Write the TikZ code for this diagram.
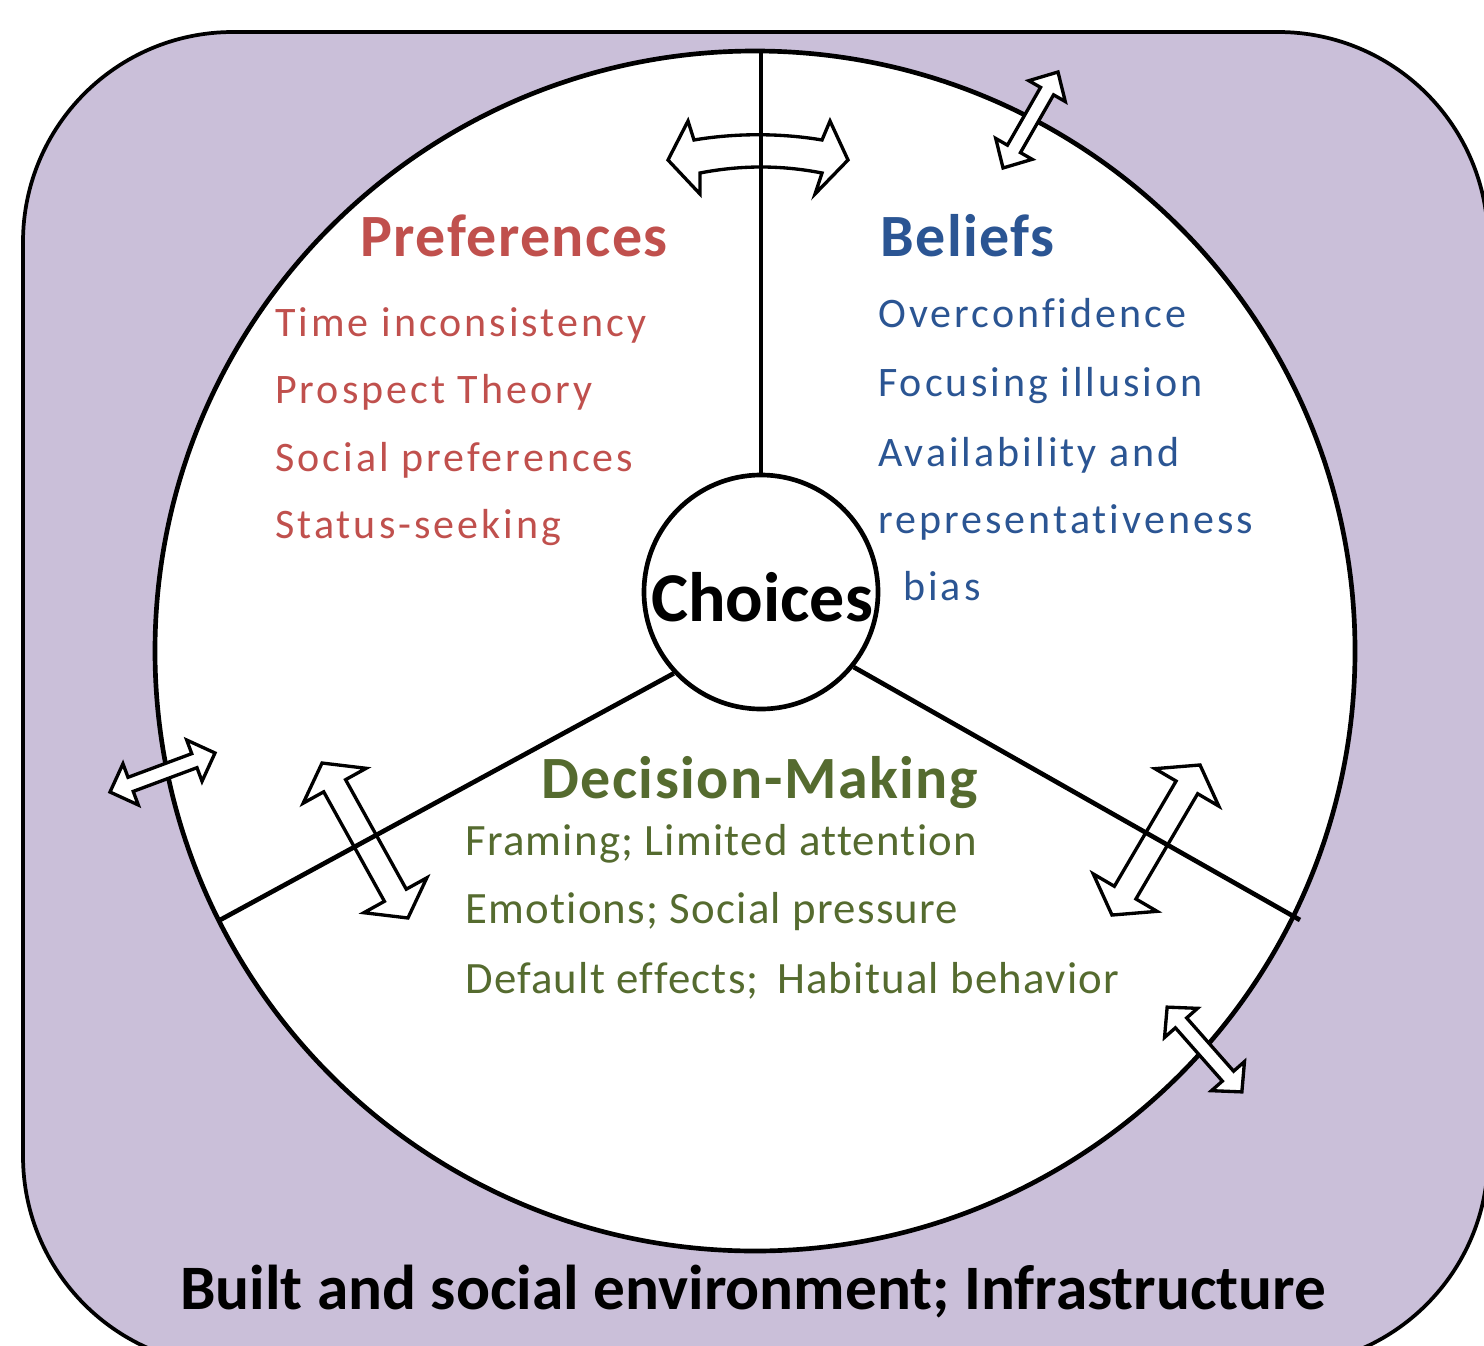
\documentclass[tikz,border=0pt]{standalone}
\usepackage{fontspec}
\setmainfont{Carlito}
\newfontfamily\headfont[LetterSpace=2.5]{Carlito}
\newfontfamily\listfont[LetterSpace=7.2,Ligatures=NoCommon]{Carlito}
\newfontfamily\greenfont[LetterSpace=2.8,Ligatures=NoCommon]{Carlito}
\usetikzlibrary{calc}

\definecolor{envfill}{HTML}{CABFD9}
\definecolor{prefred}{HTML}{C0504D}
\definecolor{beliefblue}{HTML}{2B5593}
\definecolor{decgreen}{HTML}{556B2F}

% straight double-headed block arrow:
% #1,#2 centre, #3 angle, #4 half length, #5 half shaft width, #6 half head width, #7 head length
\newcommand\dblblock[7]{%
  \begin{scope}[shift={(#1,#2)},rotate=#3]
    \draw[blockarrow] (-#4,0) -- ({-#4+#7},#6) -- ({-#4+#7},#5) -- ({#4-#7},#5)
      -- ({#4-#7},#6) -- (#4,0) -- ({#4-#7},-#6) -- ({#4-#7},-#5)
      -- ({-#4+#7},-#5) -- ({-#4+#7},-#6) -- cycle;
  \end{scope}}

\begin{document}
\begin{tikzpicture}[x=0.75pt,y=-0.75pt,
  blockarrow/.style={draw=black,fill=white,line width=2.5pt,line join=miter},
  divider/.style={draw=black,line width=3.5pt},
  headtext/.style={anchor=base west,inner sep=0,font=\headfont\bfseries\fontsize{45}{52}\selectfont},
  redtext/.style={anchor=base west,inner sep=0,text=prefred,font=\listfont\fontsize{31.5}{38}\selectfont},
  bluetext/.style={anchor=base west,inner sep=0,text=beliefblue,font=\listfont\fontsize{31.5}{38}\selectfont},
  greentext/.style={anchor=base west,inner sep=0,text=decgreen,font=\greenfont\fontsize{33.6}{40}\selectfont}]

\useasboundingbox (0,0) rectangle (1484,1345);
\clip (0,0) rectangle (1484,1345);

% surrounding environment
\draw[fill=envfill,line width=2.8pt,rounded corners=157.5pt] (23,32) rectangle (1488,1366);

% the three domains
\node[circle,draw=black,fill=white,line width=3.5pt,minimum size=900pt,inner sep=0] (arena) at (755,651) {};

% interaction arrows inside the circle
\draw[blockarrow] (668,160) -- (688,121) -- (694,140)
  .. controls (735,133) and (781,133) .. (822,140)
  -- (830,121) -- (848,160) -- (815,194) -- (822,173)
  .. controls (781,165) and (741,165) .. (700,173)
  -- (700,194) -- cycle;
\dblblock{365}{840.5}{-61}{88.6}{12.5}{36}{26}
\dblblock{1156}{840}{59.6}{87}{12.5}{37}{26}

% centre and dividers
\node[circle,draw=black,fill=white,line width=3.5pt,minimum size=175.5pt,inner sep=0] (choices) at (761,592) {};
\coordinate (topend) at (761,51);
\coordinate (leftend) at (220,920);
\coordinate (rightend) at (1300,920);
\draw[divider] (choices.north) -- (topend);
\draw[divider] (choices.223) -- (leftend);
\draw[divider] (choices.-39) -- (rightend);
\node[inner sep=0,font=\bfseries\fontsize{52.5}{60}\selectfont] (choicetext) at (762,597) {Choices};

% arrows crossing the boundary to the environment
\dblblock{1030.5}{120}{60.2}{55.3}{7.5}{21}{22}
\dblblock{162.5}{772.5}{20.4}{56}{7.5}{22}{22}
\dblblock{1204.5}{1049.5}{-48.6}{56.5}{7.5}{22}{21}

% preferences
\node[headtext,text=prefred] (preftitle) at (360,256.7) {Preferences};
\node[redtext] (pref1) at (275,336.7) {Time inconsistency};
\node[redtext] (pref2) at (275,403.5) {Prospect Theory};
\node[redtext] (pref3) at (275,471) {Social preferences};
\node[redtext] (pref4) at (275,538.3) {Status-seeking};

% beliefs
\node[headtext,text=beliefblue] (belieftitle) at (880,256.7) {Beliefs};
\node[bluetext] (belief1) at (878,327.7) {Overconfidence};
\node[bluetext] (belief2) at (878,396.7) {Focusing illusion};
\node[bluetext] (belief3) at (878,466.7) {Availability and};
\node[bluetext] (belief4) at (878,533.3) {representativeness};
\node[bluetext] (belief5) at (903,600) {bias};

% decision-making
\node[headtext,text=decgreen] (dectitle) at (541,798.3) {Decision-Making};
\node[greentext] (dec1) at (465,855) {Framing; Limited attention};
\node[greentext] (dec2) at (465,923.3) {Emotions; Social pressure};
\node[greentext] (dec3) at (465,993.3) {Default effects; \hspace{0.15em}Habitual behavior};

% environment label
\node[anchor=base west,inner sep=0,font=\bfseries\fontsize{47.5}{54}\selectfont] (envlabel) at (180,1309) {Built and social environment; Infrastructure};

\end{tikzpicture}
\end{document}
